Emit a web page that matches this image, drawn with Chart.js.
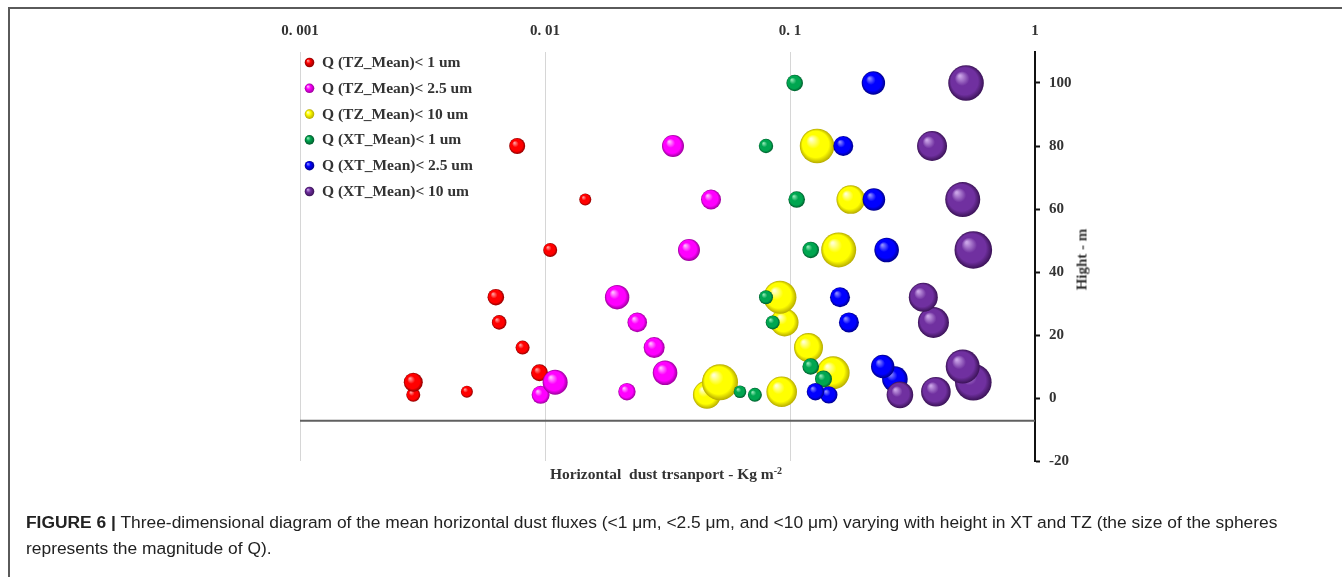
<!DOCTYPE html>
<html>
<head>
<meta charset="utf-8">
<script src="https://cdn.jsdelivr.net/npm/chart.js@4/dist/chart.umd.min.js"></script>
<style>
  html, body { margin: 0; padding: 0; background: #fff; width: 1342px; height: 577px; overflow: hidden; }
  #wrap { position: relative; width: 1342px; height: 577px; }
  #frame { position: absolute; left: 8px; top: 7px; width: 1340px; height: 580px; border-top: 2px solid #5a5a5a; border-left: 2px solid #5a5a5a; box-sizing: border-box; }
  canvas { position: absolute; left: 0; top: 0; }
  #xtitle { position: absolute; left: 466px; width: 400px; top: 465px; text-align: center; font: bold 15.5px "Liberation Serif", serif; color: #333; white-space: nowrap; }
  #xtitle sup { font-size: 10px; vertical-align: 5px; line-height: 0; }
  #ytitle { position: absolute; left: 1032px; top: 251px; width: 100px; text-align: center; font: bold 15px "Liberation Serif", serif; color: #333; transform: rotate(-90deg); white-space: nowrap; }
  #caption { position: absolute; left: 26px; top: 509px; font: 17.4px "Liberation Sans", Arial, sans-serif; color: #222; line-height: 26px; white-space: nowrap; }
  #caption b { font-weight: bold; }
</style>
</head>
<body>
<div id="wrap">
  <div id="frame"></div>
  <canvas id="c" width="1342" height="577"></canvas>
  <div id="xtitle">Horizontal&nbsp; dust trsanport - Kg m<sup>-2</sup></div>
  <div id="ytitle">Hight - m</div>
  <div id="caption"><b>FIGURE 6 |</b> Three-dimensional diagram of the mean horizontal dust fluxes (&lt;1 μm, &lt;2.5 μm, and &lt;10 μm) varying with height in XT and TZ (the size of the spheres<br>represents the magnitude of Q).</div>
</div>
<script>
// ---- tick labels ----
const xTickValues = [0.001, 0.01, 0.1, 1];
const xTickLabels = ['0. 001', '0. 01', '0. 1', '1'];
const yTickValues = [-20, 0, 20, 40, 60, 80, 100];
const yTickLabels = ['-20', '0', '20', '40', '60', '80', '100'];

// ---- series names ----
const seriesNames = [
  'Q (TZ_Mean)< 1 um',
  'Q (TZ_Mean)< 2.5 um',
  'Q (TZ_Mean)< 10 um',
  'Q (XT_Mean)< 1 um',
  'Q (XT_Mean)< 2.5 um',
  'Q (XT_Mean)< 10 um'
];

// ---- TZ < 1 um ----
const tz1Height = [1, 2, 5, 8, 16, 24, 32, 47, 63, 80];
const tz1Flux   = [0.0029, 0.0048, 0.0029, 0.0095, 0.0081, 0.0065, 0.0063, 0.0105, 0.0146, 0.0077];
const tz1Size   = [7, 6, 9.5, 8.5, 7, 7.3, 8.3, 7, 6, 8];

// ---- TZ < 2.5 um ----
const tz25Height = [1, 2, 5, 8, 16, 24, 32, 47, 63, 80];
const tz25Flux   = [0.0096, 0.0216, 0.011, 0.0309, 0.0279, 0.0238, 0.0197, 0.0387, 0.0476, 0.0333];
const tz25Size   = [9, 8.7, 12.5, 12.3, 10.5, 9.8, 12.2, 11, 10, 11];

// ---- TZ < 10 um ----
const tz10Height = [1, 2, 5, 8, 16, 24, 32, 47, 63, 80];
const tz10Flux   = [0.0458, 0.0925, 0.0518, 0.150, 0.119, 0.095, 0.091, 0.158, 0.177, 0.129];
const tz10Size   = [14, 15.3, 18, 16.5, 14.5, 14, 16.5, 17.5, 14.3, 17.3];

// ---- XT < 1 um ----
const xt1Height = [1, 2, 6, 10, 24, 32, 47, 63, 80, 100];
const xt1Flux   = [0.0719, 0.0625, 0.137, 0.1215, 0.085, 0.0798, 0.1215, 0.1065, 0.0798, 0.1045];
const xt1Size   = [7, 6.3, 8.5, 8.3, 7, 7, 8.3, 8.3, 7.2, 8.3];

// ---- XT < 2.5 um ----
const xt25Height = [1, 2, 6, 10, 24, 32, 47, 63, 80, 100];
const xt25Flux   = [0.144, 0.127, 0.268, 0.239, 0.174, 0.160, 0.248, 0.220, 0.165, 0.219];
const xt25Size   = [8.7, 8.7, 12.8, 11.7, 10, 10, 12.3, 11.3, 10, 11.7];

// ---- XT < 10 um ----
const xt10Height = [1, 2, 5, 10, 24, 32, 47, 63, 80, 100];
const xt10Flux   = [0.281, 0.394, 0.560, 0.507, 0.385, 0.350, 0.560, 0.507, 0.380, 0.523];
const xt10Size   = [13.3, 14.8, 18.3, 17, 15.5, 14.5, 18.8, 17.5, 15, 17.8];

// ---- baseline (horizontal axis line) ----
const baseLineY = -7.2;

// colours: [highlight, body, shadow]
const sphereColors = [
  ['#ff9c9c', '#ff0000', '#8a0000'],
  ['#ffb8ff', '#ff00ff', '#9a009a'],
  ['#ffffd0', '#ffff00', '#b5aa00'],
  ['#8ee8b4', '#00a650', '#005a2b'],
  ['#8c8cff', '#0000ff', '#000088'],
  ['#c9a3e6', '#7030a0', '#3a1256']
];

function pts(xs, ys, rs) {
  return xs.map((x, i) => ({ x: x, y: ys[i], r: rs[i] }));
}

function sphereFill(cols) {
  return function (ctx) {
    if (ctx.type !== 'data' || !ctx.raw) return cols[1];
    const ch = ctx.chart;
    const xs = ch.scales.x, ys = ch.scales.y;
    if (!xs || !ys || !ch.chartArea) return cols[1];
    const cx = xs.getPixelForValue(ctx.raw.x);
    const cy = ys.getPixelForValue(ctx.raw.y);
    const r = ctx.raw.r;
    if (!isFinite(cx) || !isFinite(cy)) return cols[1];
    const g = ch.ctx.createRadialGradient(cx - r * 0.35, cy - r * 0.4, r * 0.05, cx, cy, r);
    g.addColorStop(0, cols[0]);
    g.addColorStop(0.38, cols[1]);
    g.addColorStop(0.75, cols[1]);
    g.addColorStop(1, cols[2]);
    return g;
  };
}

const seriesData = [
  pts(tz1Flux, tz1Height, tz1Size),
  pts(tz25Flux, tz25Height, tz25Size),
  pts(tz10Flux, tz10Height, tz10Size),
  pts(xt1Flux, xt1Height, xt1Size),
  pts(xt25Flux, xt25Height, xt25Size),
  pts(xt10Flux, xt10Height, xt10Size)
];

const datasets = seriesData.map((d, i) => ({
  type: 'bubble',
  label: seriesNames[i],
  data: d,
  backgroundColor: sphereFill(sphereColors[i]),
  borderWidth: 0,
  order: 6 - i
}));
datasets.push({
  type: 'line',
  label: 'axis',
  data: [{ x: xTickValues[0], y: baseLineY }, { x: xTickValues[xTickValues.length - 1], y: baseLineY }],
  borderColor: '#606060',
  borderWidth: 2,
  pointRadius: 0,
  order: 20
});

const legendPlugin = {
  id: 'insideLegend',
  afterDraw(chart) {
    const ctx = chart.ctx;
    const a = chart.chartArea;
    ctx.save();
    ctx.font = 'bold 15.5px "Liberation Serif", serif';
    ctx.textBaseline = 'middle';
    seriesNames.forEach((name, i) => {
      const cy = a.top + 11 + i * 25.8;
      const cx = a.left + 9.5;
      const r = 4.8;
      const cols = sphereColors[i];
      const g = ctx.createRadialGradient(cx - r * 0.35, cy - r * 0.4, 0.3, cx, cy, r);
      g.addColorStop(0, cols[0]);
      g.addColorStop(0.4, cols[1]);
      g.addColorStop(1, cols[2]);
      ctx.beginPath();
      ctx.arc(cx, cy, r, 0, Math.PI * 2);
      ctx.fillStyle = g;
      ctx.fill();
      ctx.fillStyle = '#333';
      ctx.fillText(name, a.left + 22, cy + 0.5);
    });
    ctx.restore();
  }
};

new Chart(document.getElementById('c'), {
  type: 'bubble',
  data: { datasets: datasets },
  plugins: [legendPlugin],
  options: {
    responsive: false,
    animation: false,
    events: [],
    layout: { padding: { left: 300, right: 247, top: 10, bottom: 116 } },
    plugins: {
      legend: { display: false },
      tooltip: { enabled: false }
    },
    scales: {
      x: {
        type: 'logarithmic',
        position: 'top',
        min: xTickValues[0],
        max: xTickValues[xTickValues.length - 1],
        afterBuildTicks: (s) => { s.ticks = xTickValues.map(v => ({ value: v })); },
        afterFit: (s) => { s.height = 41.5; },
        ticks: {
          autoSkip: false,
          maxRotation: 0,
          padding: 11,
          color: '#333',
          font: { family: '"Liberation Serif", serif', size: 15, weight: 'bold' },
          callback: (v, i) => xTickLabels[i]
        },
        grid: { color: '#d6d6d6', lineWidth: 1, drawTicks: false },
        border: { display: false }
      },
      y: {
        type: 'linear',
        position: 'right',
        min: -20,
        max: 110,
        afterBuildTicks: (s) => { s.ticks = yTickValues.map(v => ({ value: v })); },
        afterFit: (s) => { s.width = 60; },
        ticks: {
          autoSkip: false,
          padding: 9,
          color: '#333',
          font: { family: '"Liberation Serif", serif', size: 15, weight: 'bold' },
          callback: (v, i) => yTickLabels[i]
        },
        grid: { drawOnChartArea: false, drawTicks: true, tickLength: 5, tickWidth: 2, tickColor: '#111' },
        border: { display: true, color: '#111', width: 2 }
      }
    }
  }
});
</script>
</body>
</html>
